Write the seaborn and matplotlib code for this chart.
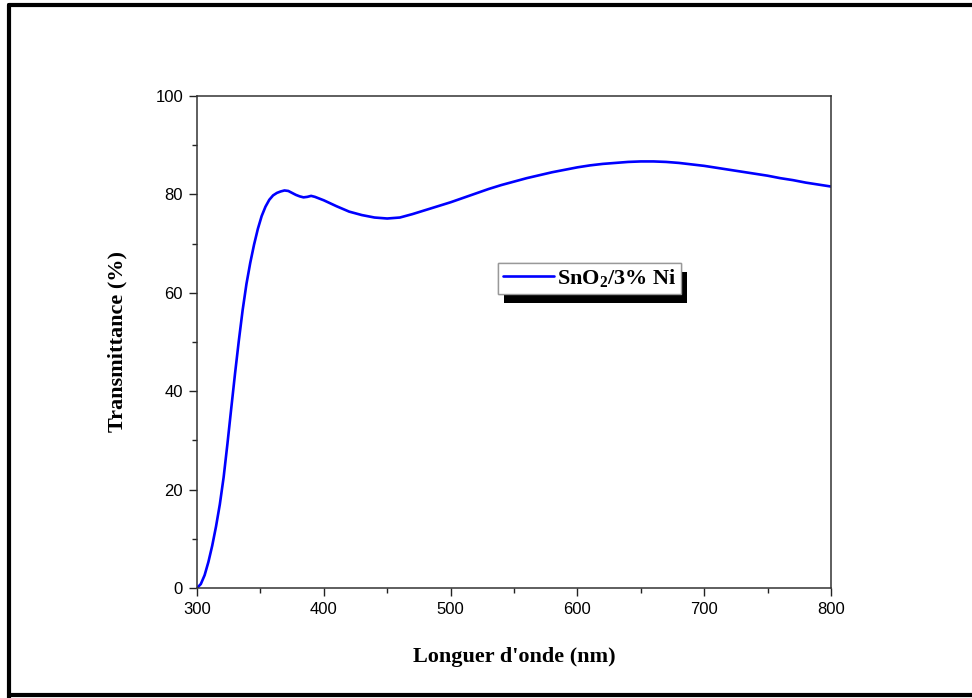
import numpy as np
import pandas as pd
import matplotlib
matplotlib.use("Agg")
import matplotlib.pyplot as plt
import seaborn as sns
from matplotlib.lines import Line2D
from matplotlib.patches import Rectangle
from matplotlib.ticker import MultipleLocator

# =============================================================================
# DATA
# =============================================================================

WAVELENGTH = [300, 303, 306, 309, 312, 315, 318, 321, 324, 327, 330, 333, 336,
              339, 342, 345, 348, 351, 354, 357, 360, 363, 366, 369, 372, 375,
              378, 381, 384, 387, 390, 393, 396, 400, 405, 410, 420, 430, 440,
              450, 460, 470, 480, 490, 500, 510, 520, 530, 540, 550, 560, 570,
              580, 590, 600, 610, 620, 630, 640, 650, 660, 670, 680, 690, 700,
              710, 720, 730, 740, 750, 760, 770, 780, 790, 800]

TRANSMITTANCE = [0.0, 0.8, 2.6, 5.3, 8.6, 12.5, 17.0, 22.5, 29.3, 36.5, 43.6,
                 50.3, 56.5, 61.8, 66.1, 69.8, 73.0, 75.6, 77.5, 78.9, 79.8,
                 80.3, 80.6, 80.8, 80.7, 80.3, 79.9, 79.6, 79.4, 79.5, 79.7,
                 79.5, 79.2, 78.8, 78.2, 77.6, 76.5, 75.8, 75.3, 75.1, 75.3,
                 76.0, 76.8, 77.6, 78.4, 79.3, 80.2, 81.1, 81.9, 82.6, 83.3,
                 83.9, 84.5, 85.0, 85.5, 85.9, 86.2, 86.4, 86.6, 86.7, 86.7,
                 86.6, 86.4, 86.1, 85.8, 85.4, 85.0, 84.6, 84.2, 83.8, 83.3,
                 82.9, 82.4, 82.0, 81.6]

SERIES_LABEL = r"SnO$_\mathbf{2}$/3% Ni"
X_LABEL = "Longuer d'onde (nm)"
Y_LABEL = "Transmittance (%)"

# =============================================================================
# STYLE
# =============================================================================

sns.set_style("ticks")
plt.rcParams['font.family'] = ['Liberation Sans', 'DejaVu Sans']
plt.rcParams['text.color'] = 'black'
plt.rcParams['axes.labelcolor'] = 'black'
plt.rcParams['mathtext.fontset'] = 'custom'
plt.rcParams['mathtext.rm'] = 'Liberation Serif'
plt.rcParams['mathtext.bf'] = 'Liberation Serif:bold'

SERIF_BOLD = dict(family=['Liberation Serif', 'DejaVu Serif'], weight='bold')

df = pd.DataFrame({'Wavelength': WAVELENGTH, 'Transmittance': TRANSMITTANCE})

fig = plt.figure(figsize=(9.72, 6.98), dpi=100)
ax = fig.add_axes([197 / 972, 1 - 588 / 698, 634 / 972, 492 / 698])

sns.lineplot(data=df, x='Wavelength', y='Transmittance', color='#0000ff',
             linewidth=1.9, ax=ax, label=SERIES_LABEL, legend=False)

ax.set_xlim(300, 800)
ax.set_ylim(0, 100)
ax.xaxis.set_major_locator(MultipleLocator(100))
ax.xaxis.set_minor_locator(MultipleLocator(50))
ax.yaxis.set_major_locator(MultipleLocator(20))
ax.yaxis.set_minor_locator(MultipleLocator(10))
ax.tick_params(which='both', direction='out', top=False, right=False,
               width=1.0, colors='#222222', labelcolor='black', labelsize=12)
ax.tick_params(which='major', length=6, pad=4)
ax.tick_params(which='minor', length=3.5)
for sp in ax.spines.values():
    sp.set_linewidth(1.1)
    sp.set_color('#333333')

ax.set_xlabel(X_LABEL, fontsize=16, labelpad=22, color='black', **SERIF_BOLD)
ax.set_ylabel(Y_LABEL, fontsize=16, labelpad=20, color='black', **SERIF_BOLD)

leg = ax.legend(loc='upper left', bbox_to_anchor=(0.475, 0.661),
                borderaxespad=0, fancybox=False, frameon=True,
                prop=dict(family='Liberation Serif', weight='bold', size=16),
                handlelength=2.3, handletextpad=0.15, borderpad=0.2)
leg.get_frame().set_edgecolor('#999999')
leg.get_frame().set_linewidth(1.0)
leg.get_frame().set_alpha(1)
leg.set_zorder(5)

# black drop shadow behind the legend box
fig.canvas.draw()
bb = leg.get_window_extent().transformed(fig.transFigure.inverted())
dx, dy = 6 / 972, -9 / 698
shadow = Rectangle((bb.x0 + dx, bb.y0 + dy), bb.width, bb.height,
                   transform=fig.transFigure, facecolor='black',
                   edgecolor='none', zorder=4)
fig.add_artist(shadow)
fig.add_artist(leg)

# outer frame around the picture (no right side)
for xs, ys in [([9 / 972, 9 / 972], [0, 1 - 5 / 698]),
               ([9 / 972, 1], [1 - 5 / 698, 1 - 5 / 698]),
               ([9 / 972, 1], [1 - 695 / 698, 1 - 695 / 698])]:
    fig.add_artist(Line2D(xs, ys, color='black', linewidth=3,
                          transform=fig.transFigure))

fig.savefig('out.png', dpi=100)
